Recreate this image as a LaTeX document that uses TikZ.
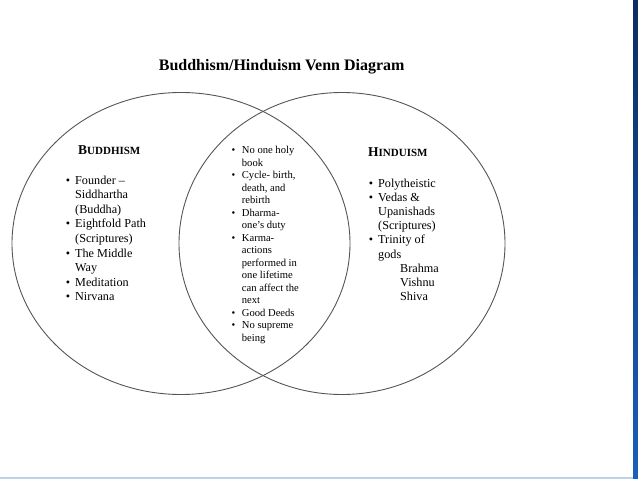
\documentclass[tikz,border=0pt]{standalone}
\usepackage{fontspec}
\setmainfont{Liberation Serif}
\usetikzlibrary{shapes.geometric}
\definecolor{circ}{RGB}{85,85,85}
\definecolor{stripdark}{RGB}{12,45,100}
\definecolor{striplight}{RGB}{25,95,185}
\definecolor{bottomedge}{RGB}{185,212,234}
\tikzset{
  venn/.style={ellipse, draw=circ, line width=0.9pt, inner sep=0pt},
  txt/.style={inner sep=0pt, anchor=base west, text=black},
  head/.style={inner sep=0pt, anchor=base west, font=\bfseries},
}
\newcommand{\bul}[1]{\llap{\textbullet\hspace{#1}}}
\begin{document}
\begin{tikzpicture}[x=1pt,y=-1pt]
\useasboundingbox (0,0) rectangle (638,479);
\fill[white] (0,0) rectangle (638,479);
\shade[top color=stripdark, bottom color=striplight] (633,0) rectangle (638,479);
\fill[fill=bottomedge] (0,477) rectangle (633,479);

\node[venn, minimum width=338pt, minimum height=302pt] (bud) at (181,243.5) {};
\node[venn, minimum width=326pt, minimum height=302pt] (hin) at (342,243.5) {};

\node[inner sep=0pt, anchor=base, font=\fontsize{16}{19}\selectfont\bfseries] (title) at (281.7,70) {Buddhism/Hinduism Venn Diagram};

\node[head] (budh) at (78,154) {{\fontsize{13.5}{16}\selectfont B}{\fontsize{11}{13}\selectfont UDDHISM}};
\node[head] (hinh) at (368,156) {{\fontsize{13.5}{16}\selectfont H}{\fontsize{11}{13}\selectfont INDUISM}};

\node[txt] (budl) at (75,184) {\fontsize{12.2}{14.6}\selectfont
\begin{tabular}[t]{@{}l@{}}
\bul{5pt}Founder --\\
Siddhartha\\
(Buddha)\\
\bul{5pt}Eightfold Path\\
(Scriptures)\\
\bul{5pt}The Middle\\
Way\\
\bul{5pt}Meditation\\
\bul{5pt}Nirvana
\end{tabular}};

\node[txt] (midl) at (241.7,153.5) {\fontsize{10.6}{12.5}\selectfont
\begin{tabular}[t]{@{}l@{}}
\bul{6.5pt}No one holy\\
book\\
\bul{6.5pt}Cycle- birth,\\
death, and\\
rebirth\\
\bul{6.5pt}Dharma-\\
one's duty\\
\bul{6.5pt}Karma-\\
actions\\
performed in\\
one lifetime\\
can affect the\\
next\\
\bul{6.5pt}Good Deeds\\
\bul{6.5pt}No supreme\\
being
\end{tabular}};

\node[txt] (hinl) at (378,187) {\fontsize{12.2}{14.2}\selectfont
\begin{tabular}[t]{@{}l@{}}
\bul{5pt}Polytheistic\\
\bul{5pt}Vedas \&\\
Upanishads\\
(Scriptures)\\
\bul{5pt}Trinity of\\
gods\\
\hspace{22pt}Brahma\\
\hspace{22pt}Vishnu\\
\hspace{22pt}Shiva
\end{tabular}};
\end{tikzpicture}
\end{document}
